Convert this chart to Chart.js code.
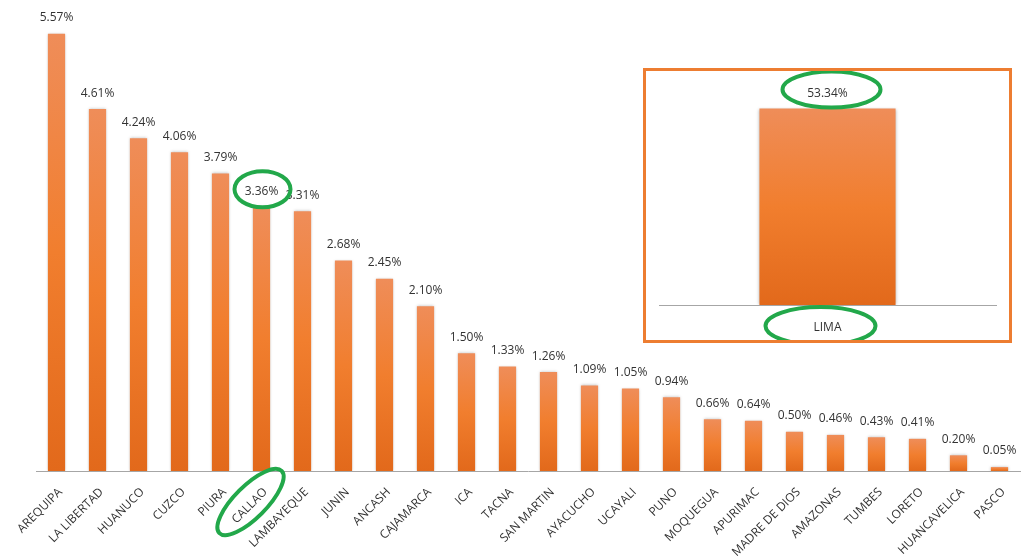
<!DOCTYPE html>
<html>
<head>
<meta charset="utf-8">
<script src="https://cdn.jsdelivr.net/npm/chart.js@4.4.0/dist/chart.umd.min.js"></script>
<style>
  html, body { margin: 0; padding: 0; background: #fff; }
  #wrap { position: relative; width: 1027px; height: 558px; overflow: hidden; }
  #mainChart { position: absolute; left: 0; top: 0; }
  #inset {
    position: absolute; left: 643px; top: 68px; width: 369px; height: 275px;
    box-sizing: border-box; border: 3px solid #ED7D31; background: #fff;
  }
  #limaChart { display: block; }
</style>
</head>
<body>
<div id="wrap">
  <canvas id="mainChart" width="1027" height="558"></canvas>
  <div id="inset"><canvas id="limaChart" width="363" height="269"></canvas></div>
</div>
<script>
// Regional shares (%) - everything except Lima
const regions = ['AREQUIPA', 'LA LIBERTAD', 'HUANUCO', 'CUZCO', 'PIURA', 'CALLAO', 'LAMBAYEQUE',
    'JUNIN', 'ANCASH', 'CAJAMARCA', 'ICA', 'TACNA', 'SAN MARTIN', 'AYACUCHO', 'UCAYALI', 'PUNO',
    'MOQUEGUA', 'APURIMAC', 'MADRE DE DIOS', 'AMAZONAS', 'TUMBES', 'LORETO', 'HUANCAVELICA', 'PASCO'];
const shares = [5.57, 4.61, 4.24, 4.06, 3.79, 3.36, 3.31, 2.68, 2.45, 2.10, 1.50, 1.33, 1.26,
    1.09, 1.05, 0.94, 0.66, 0.64, 0.50, 0.46, 0.43, 0.41, 0.20, 0.05];

// Lima is shown on its own in the inset
const limaLabels = ['LIMA'];
const limaShares = [53.34];

const highlightRegion = 'CALLAO';
const ringColor = '#22A84A';
const textColor = '#333333';

function barGradient(context) {
    const chart = context.chart;
    if (!chart.chartArea || !chart.scales.y) return '#EE7F33';
    const yScale = chart.scales.y;
    const top = yScale.getPixelForValue(context.raw);
    const bottom = yScale.getPixelForValue(0);
    if (!(bottom > top)) return '#EE7F33';
    const g = chart.ctx.createLinearGradient(0, top, 0, bottom);
    g.addColorStop(0, '#EF8D59');
    g.addColorStop(0.5, '#F17E2E');
    g.addColorStop(1, '#E2691B');
    return g;
}

// soft edge shadow like the office bars
const barShadow = {
    id: 'barShadow',
    beforeDatasetDraw(chart) {
        chart.ctx.save();
        chart.ctx.shadowColor = 'rgba(0,0,0,0.28)';
        chart.ctx.shadowBlur = 3;
    },
    afterDatasetDraw(chart) {
        chart.ctx.restore();
    }
};

// value labels above each bar
function valueLabels(fontSize, gap) {
    return {
        id: 'valueLabels',
        afterDatasetsDraw(chart) {
            const ctx = chart.ctx;
            const meta = chart.getDatasetMeta(0);
            const values = chart.data.datasets[0].data;
            ctx.save();
            ctx.font = fontSize + 'px "Open Sans"';
            ctx.fillStyle = textColor;
            ctx.textAlign = 'center';
            ctx.textBaseline = 'middle';
            meta.data.forEach((bar, i) => {
                ctx.fillText(values[i].toFixed(2) + '%', bar.x, bar.y - gap);
            });
            ctx.restore();
        }
    };
}

function ring(ctx, x, y, rx, ry, rot) {
    ctx.save();
    ctx.strokeStyle = ringColor;
    ctx.lineWidth = 4;
    ctx.beginPath();
    ctx.ellipse(x, y, rx, ry, rot, 0, Math.PI * 2);
    ctx.stroke();
    ctx.restore();
}

const mainRings = {
    id: 'mainRings',
    afterDraw(chart) {
        const idx = regions.indexOf(highlightRegion);
        const bar = chart.getDatasetMeta(0).data[idx];
        const base = chart.scales.x.top;
        ring(chart.ctx, bar.x + 1, bar.y - 18, 28, 18, 0);
        ring(chart.ctx, bar.x - 11, base + 31, 44, 16, -Math.PI / 4);
    }
};

const limaRings = {
    id: 'limaRings',
    afterDraw(chart) {
        const bar = chart.getDatasetMeta(0).data[0];
        const base = chart.scales.x.top;
        ring(chart.ctx, bar.x + 4, bar.y - 19, 49, 18, 0);
        ring(chart.ctx, bar.x - 7, base + 21, 55, 19, 0);
    }
};

new Chart(document.getElementById('mainChart'), {
    type: 'bar',
    data: {
        labels: regions,
        datasets: [{
            data: shares,
            backgroundColor: barGradient,
            borderWidth: 0,
            barPercentage: 0.42,
            categoryPercentage: 1
        }]
    },
    options: {
        responsive: false,
        animation: false,
        layout: { padding: { left: 36, right: 7, top: 0, bottom: 0 } },
        plugins: { legend: { display: false }, tooltip: { enabled: false } },
        scales: {
            x: {
                grid: { display: false, drawTicks: false },
                border: { display: true, color: '#A6A6A6', width: 1 },
                ticks: {
                    color: textColor,
                    font: { family: 'Open Sans', size: 12 },
                    minRotation: 45,
                    maxRotation: 45,
                    autoSkip: false,
                    padding: 14,
                    labelOffset: 4
                },
                afterFit(scale) { scale.height = 87; }
            },
            y: {
                display: false,
                min: 0,
                max: 6
            }
        }
    },
    plugins: [barShadow, valueLabels(12, 16), mainRings]
});

new Chart(document.getElementById('limaChart'), {
    type: 'bar',
    data: {
        labels: limaLabels,
        datasets: [{
            data: limaShares,
            backgroundColor: barGradient,
            borderWidth: 0,
            barPercentage: 0.404,
            categoryPercentage: 1
        }]
    },
    options: {
        responsive: false,
        animation: false,
        layout: { padding: { left: 13, right: 13, top: 13, bottom: 0 } },
        plugins: { legend: { display: false }, tooltip: { enabled: false } },
        scales: {
            x: {
                grid: { display: false, drawTicks: false },
                border: { display: true, color: '#A6A6A6', width: 1 },
                ticks: {
                    color: textColor,
                    font: { family: 'Open Sans', size: 12 },
                    maxRotation: 0,
                    padding: 15
                },
                afterFit(scale) { scale.height = 35; }
            },
            y: {
                display: false,
                min: 0,
                max: 60
            }
        }
    },
    plugins: [barShadow, valueLabels(12, 15), limaRings]
});
</script>
</body>
</html>
